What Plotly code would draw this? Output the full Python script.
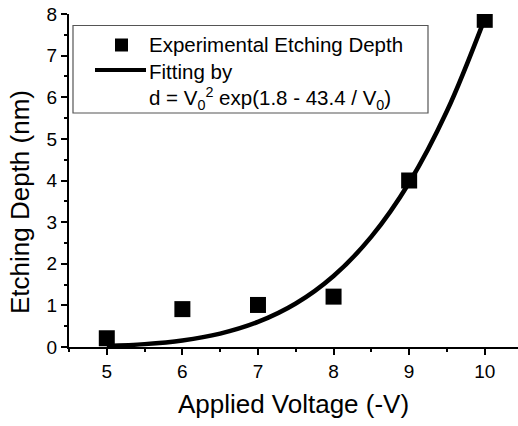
import plotly.graph_objects as go

voltage = [5, 6, 7, 8, 9, 10]
depth = [0.21, 0.91, 1.01, 1.21, 4.0, 7.86]

# Fitting curve samples
fit_v = [5.0, 5.5, 6.0, 6.5, 7.0, 7.5, 8.0, 8.5, 9.0, 9.5, 10.0]
fit_d = [0.026, 0.069, 0.157, 0.322, 0.602, 1.044, 1.706, 2.650, 3.945, 5.668, 7.89]

x_ticks = [5, 6, 7, 8, 9, 10]
y_ticks = [0, 1, 2, 3, 4, 5, 6, 7, 8]

legend_labels = [
    "Experimental Etching Depth",
    "Fitting by",
    "d = V<sub>0</sub><sup>2</sup> exp(1.8 - 43.4 / V<sub>0</sub>)",
]

FONT = "Liberation Sans, Arial, sans-serif"

# plot-area geometry (pixels) used to place the legend box in paper coords
W, H = 518, 426
ML, MR, MT, MB = 69, 0, 14, 79
PW, PH = W - ML - MR, H - MT - MB


def px(x):
    return (x - ML) / PW


def py(y):
    return (H - MB - y) / PH


fig = go.Figure()
fig.add_trace(go.Scatter(
    x=voltage, y=depth, mode="markers",
    name=legend_labels[0], showlegend=False,
    marker=dict(symbol="square", size=16, color="black"),
))
fig.add_trace(go.Scatter(
    x=fit_v, y=fit_d, mode="lines",
    name="Fitting by", showlegend=False,
    line=dict(color="black", width=4.5, shape="spline"),
))

axis_common = dict(
    showline=True, linecolor="black", linewidth=2, mirror=False,
    ticks="outside", ticklen=6, tickwidth=2, tickcolor="black",
    showgrid=False, zeroline=False,
    tickfont=dict(family=FONT, size=19, color="black"),
)

shapes = [
    # legend frame
    dict(type="rect", xref="paper", yref="paper",
         x0=px(73), x1=px(428), y0=py(113), y1=py(25.5),
         line=dict(color="#555555", width=1.2), fillcolor="rgba(0,0,0,0)"),
    # legend square symbol
    dict(type="rect", xref="paper", yref="paper",
         x0=px(115), x1=px(128), y0=py(51.5), y1=py(38.5),
         line=dict(width=0), fillcolor="black"),
    # legend line symbol
    dict(type="line", xref="paper", yref="paper",
         x0=px(95), x1=px(146), y0=py(70), y1=py(70),
         line=dict(color="black", width=4)),
]

leg_font = dict(family=FONT, size=20.5, color="black")
annotations = [
    dict(text="<br>".join(legend_labels), align="left",
         xref="paper", yref="paper", x=px(147), y=py(31),
         xanchor="left", yanchor="top", showarrow=False, font=leg_font),
    dict(text="Etching Depth (nm)", textangle=-90,
         xref="paper", yref="paper", x=px(20), y=py(202),
         xanchor="center", yanchor="middle", showarrow=False,
         font=dict(family=FONT, size=26, color="black")),
]

fig.update_layout(
    width=W, height=H,
    margin=dict(l=ML, r=MR, t=MT, b=MB),
    paper_bgcolor="white", plot_bgcolor="white",
    font=dict(family=FONT, color="black"),
    showlegend=False,
    xaxis=dict(
        range=[4.5, 10.44], tickvals=x_ticks,
        minor=dict(dtick=0.5, tick0=4.5, ticklen=3, tickwidth=1.5, tickcolor="black", ticks="outside"),
        title=dict(text="Applied Voltage (-V)", font=dict(family=FONT, size=26, color="black"), standoff=14),
        **axis_common,
    ),
    yaxis=dict(
        range=[0, 8], tickvals=y_ticks,
        minor=dict(dtick=0.5, tick0=0, ticklen=3, tickwidth=1.5, tickcolor="black", ticks="outside"),
        **axis_common,
    ),
    shapes=shapes,
    annotations=annotations,
)

fig.write_html("out.html", config={"displayModeBar": False},
               post_script="document.body.style.margin='0px';")
